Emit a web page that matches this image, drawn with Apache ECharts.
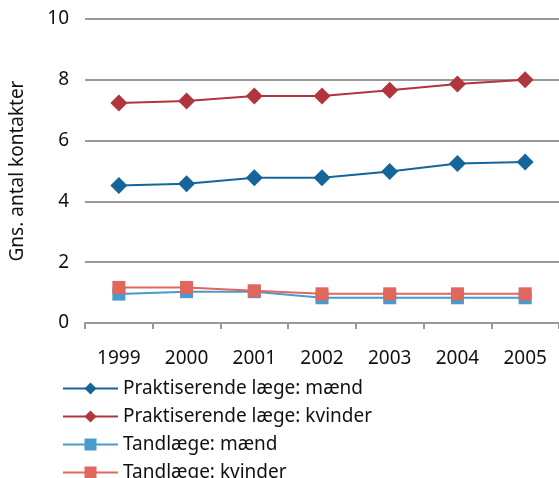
<!DOCTYPE html>
<html>
<head>
<meta charset="UTF-8">
<title>kontakter</title>
<script src="https://cdn.jsdelivr.net/npm/echarts@6/dist/echarts.min.js"></script>
<style>
  html, body { margin: 0; padding: 0; background: #fff; }
  #main { width: 559px; height: 478px; }
</style>
</head>
<body>
<div id="main"></div>
<script>
var years = ['1999', '2000', '2001', '2002', '2003', '2004', '2005'];
var laegeMaend = [4.52, 4.58, 4.78, 4.78, 4.98, 5.25, 5.3];
var laegeKvinder = [7.24, 7.3, 7.47, 7.47, 7.66, 7.86, 8.0];
var tandMaend = [0.95, 1.03, 1.03, 0.83, 0.83, 0.83, 0.83];
var tandKvinder = [1.17, 1.17, 1.06, 0.96, 0.96, 0.96, 0.96];

var font = 'Noto Sans';

function serie(name, data, color, symbol, size) {
  return {
    name: name,
    type: 'line',
    data: data,
    symbol: symbol,
    symbolSize: size,
    showAllSymbol: true,
    lineStyle: { color: color, width: 2 },
    itemStyle: { color: color },
    emphasis: { disabled: true }
  };
}

var myChart = echarts.init(document.getElementById('main'));
var option = {
  animation: false,
  textStyle: { fontFamily: font },
  grid: { left: 85, right: -2, top: 19, bottom: 155, containLabel: false },
  legend: {
    orient: 'vertical',
    left: 62,
    top: 379,
    height: 200,
    padding: 0,
    itemWidth: 55,
    itemHeight: 15,
    itemGap: 9,
    textStyle: { fontFamily: font, fontSize: 19, color: '#111' },
    data: ['Praktiserende læge: mænd', 'Praktiserende læge: kvinder', 'Tandlæge: mænd', 'Tandlæge: kvinder']
  },
  xAxis: {
    type: 'category',
    data: years,
    boundaryGap: true,
    axisLine: { lineStyle: { color: '#999', width: 2 } },
    axisTick: { show: true, length: 6, lineStyle: { color: '#999', width: 2 } },
    axisLabel: { fontSize: 19, color: '#111', margin: 26, fontFamily: font }
  },
  yAxis: {
    type: 'value',
    min: 0,
    max: 10,
    interval: 2,
    name: 'Gns. antal kontakter',
    nameLocation: 'middle',
    nameGap: 58,
    nameTextStyle: { fontSize: 19, color: '#111', fontFamily: font },
    axisLine: { show: false },
    axisTick: { show: false },
    axisLabel: { fontSize: 19, color: '#111', margin: 16, fontFamily: font },
    splitLine: { lineStyle: { color: '#999', width: 2 } }
  },
  series: [
    serie('Praktiserende læge: mænd', laegeMaend, '#16659a', 'diamond', 17),
    serie('Praktiserende læge: kvinder', laegeKvinder, '#b0353c', 'diamond', 17),
    serie('Tandlæge: mænd', tandMaend, '#4a9bcb', 'rect', 13),
    serie('Tandlæge: kvinder', tandKvinder, '#e0675d', 'rect', 13)
  ]
};
myChart.setOption(option);
</script>
</body>
</html>
